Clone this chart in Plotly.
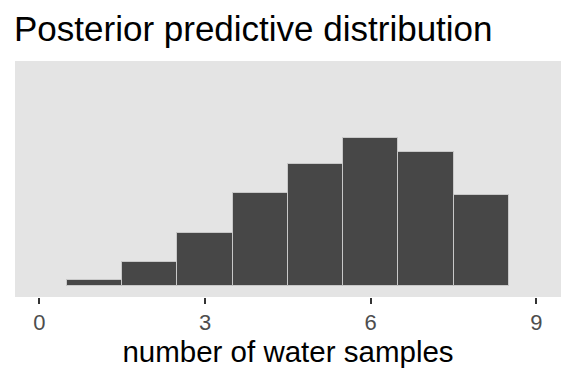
import plotly.graph_objects as go

water_counts = [1, 2, 3, 4, 5, 6, 7, 8]
frequency = [9, 36, 79, 138, 182, 220, 199, 136]
tick_vals = [0, 3, 6, 9]
tick_text = ["0", "3", "6", "9"]

fig = go.Figure()
fig.add_trace(go.Bar(
    x=water_counts, y=frequency, width=1,
    marker=dict(color="#474747", line=dict(color="#c8c8c8", width=1)),
    hoverinfo="skip"
))

fig.update_layout(
    width=576, height=384,
    margin=dict(l=15, r=15, t=61, b=87),
    paper_bgcolor="white", plot_bgcolor="#E4E4E4",
    showlegend=False,
    bargap=0,
    font=dict(family="Liberation Sans, Arial, sans-serif"),
    title=dict(text="Posterior predictive distribution", x=14/576, xanchor="left",
               xref="container", y=1 - 29/384, yref="container", yanchor="middle",
               pad=dict(l=0, r=0, t=0, b=0),
               font=dict(size=35, color="black")),
    xaxis=dict(range=[-0.44, 9.445], tickvals=tick_vals, ticktext=tick_text,
               showgrid=False, zeroline=False, showline=False,
               ticks="outside", ticklen=6, tickwidth=2, tickcolor="#333333",
               tickfont=dict(size=22, color="#4D4D4D"),
               title=dict(text="number of water samples", font=dict(size=29.5, color="black"), standoff=6)),
    yaxis=dict(range=[-15.7, 333.9], showticklabels=False, showgrid=False,
               zeroline=False, showline=False, ticks=""),
)

fig.write_html("out.html", config={"displayModeBar": False},
               post_script="document.body.style.margin='0';")
